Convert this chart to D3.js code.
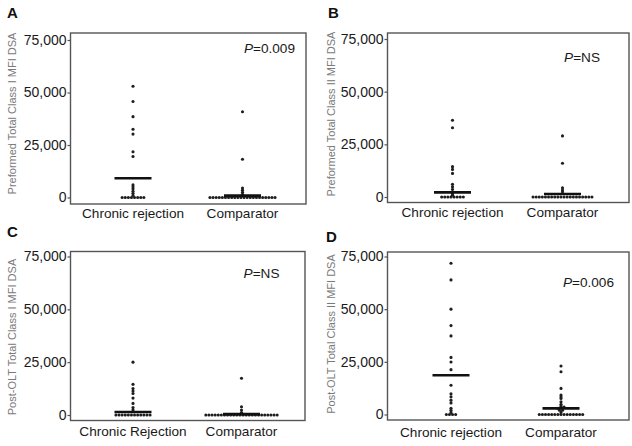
<!DOCTYPE html>
<html>
<head>
<meta charset="utf-8">
<script src="https://cdn.jsdelivr.net/npm/d3@7"></script>
<style>
  body { margin: 0; background: #fff; }
  svg { font-family: Arial, "Liberation Sans", sans-serif; }
</style>
</head>
<body>
<div id="container"></div>
<script>
// data
const panelLetters = ['A', 'B', 'C', 'D'];
const yTitles = [
    'Preformed Total Class I MFI DSA',
    'Preformed Total Class II MFI DSA',
    'Post-OLT Total Class I MFI DSA',
    'Post-OLT Total Class II MFI DSA'
];
const categoryLabels = [
    ['Chronic rejection', 'Comparator'],
    ['Chronic rejection', 'Comparator'],
    ['Chronic Rejection', 'Comparator'],
    ['Chronic rejection', 'Comparator']
];
const pValues = ['0.009', 'NS', 'NS', '0.006'];
const yTicks = [0, 25000, 50000, 75000];

const crA = [53000, 45700, 38500, 32500, 30200, 21800, 19500, 6000, 5000, 4000, 3000, 2000, 1000,
    0, 0, 0, 0, 0, 0, 0, 0];
const compA = [40800, 18200, 4500, 3500, 2500, 1500,
    0, 0, 0, 0, 0, 0, 0, 0, 0, 0, 0, 0, 0, 0, 0, 0, 0, 0, 0, 0, 0, 0];
const meanA = [9200, 900];

const crB = [36400, 32900, 14400, 13100, 11200, 6000, 4900, 3600, 1500, 800,
    0, 0, 0, 0, 0, 0, 0, 0];
const compB = [29000, 16000, 4400, 3300, 2500,
    0, 0, 0, 0, 0, 0, 0, 0, 0, 0, 0, 0, 0, 0, 0, 0, 0, 0, 0, 0];
const meanB = [2200, 1400];

const crC = [25000, 14500, 12500, 11300, 10200, 8000, 5500, 3500, 2500,
    0, 0, 0, 0, 0, 0, 0, 0, 0, 0, 0, 0];
const compC = [17400, 3900, 2400, 1200,
    0, 0, 0, 0, 0, 0, 0, 0, 0, 0, 0, 0, 0, 0, 0, 0, 0, 0, 0, 0, 0, 0, 0, 0];
const meanC = [1400, 400];

const crD = [71800, 63900, 50000, 42200, 37300, 27100, 24900, 21300, 13900, 9800, 8400, 6800, 5500,
    3000, 2000, 1000, 0, 0, 0, 0];
const compD = [23000, 20300, 12400, 9200, 8400, 7600, 6000, 4900, 4000, 3500, 3500, 3000, 2000, 2000, 1000,
    0, 0, 0, 0, 0, 0, 0, 0, 0, 0, 0, 0, 0, 0, 0];
const meanD = [18600, 2900];

const series = [[crA, compA], [crB, compB], [crC, compC], [crD, compD]];
const means = [meanA, meanB, meanC, meanD];

// layout of the four panels (frame, y range, category centres, text spots)
const layout = [
    {l: 70.5, r: 306, t: 33, b: 204, y0: 197.5, y1: 40, cx: [133, 242.5],
     letter: [7, 18], title: [12, 113.5], p: [295, 53, 'end'], catY: 218},
    {l: 387.5, r: 629, t: 33, b: 202.5, y0: 197, y1: 39, cx: [452.5, 562.5],
     letter: [328, 17.5], title: [331, 114], p: [582, 61.5, 'middle'], catY: 217},
    {l: 70.5, r: 305, t: 251.5, b: 420.5, y0: 415, y1: 256.5, cx: [133, 241.5],
     letter: [7, 237], title: [12, 337], p: [261.5, 278, 'middle'], catY: 435.5},
    {l: 387.5, r: 629, t: 252, b: 420, y0: 414.5, y1: 256.5, cx: [451, 561],
     letter: [326, 242], title: [331, 334], p: [614, 286.5, 'end'], catY: 437}
];

const W = 632, H = 446;
const dotR = 1.55, dotGap = 3.1, meanHalf = 18.5;

const svg = d3.select('#container').append('svg')
    .attr('width', W)
    .attr('height', H);

// put points of (almost) the same height side by side, like a dot plot
function arrange(values, y, cx) {
    const sorted = values.slice().sort((a, b) => a - b);
    const rows = [];
    sorted.forEach(v => {
        const py = y(v);
        const row = rows[rows.length - 1];
        if (row && Math.abs(row.y - py) < 1.2) row.pts.push(py);
        else rows.push({y: py, pts: [py]});
    });
    const out = [];
    rows.forEach(row => {
        const n = row.pts.length;
        row.pts.forEach((py, i) => out.push({x: cx + (i - (n - 1) / 2) * dotGap, y: py}));
    });
    return out;
}

layout.forEach((L, k) => {
    const g = svg.append('g');
    const y = d3.scaleLinear().domain([0, 75000]).range([L.y0, L.y1]);
    const x = d3.scalePoint().domain(categoryLabels[k]).range(L.cx);

    // frame
    g.append('rect')
        .attr('x', L.l).attr('y', L.t)
        .attr('width', L.r - L.l).attr('height', L.b - L.t)
        .attr('fill', 'none')
        .attr('stroke', '#555')
        .attr('stroke-width', 1.4);

    // y axis
    const axisG = g.append('g')
        .attr('transform', `translate(${L.l},0)`)
        .call(d3.axisLeft(y).tickValues(yTicks).tickSize(3).tickPadding(1).tickFormat(d3.format(',')));
    axisG.select('.domain').remove();
    axisG.selectAll('.tick line').attr('stroke', '#555').attr('stroke-width', 1.2);
    axisG.selectAll('.tick text')
        .attr('fill', '#1a1a1a')
        .style('font-size', '14px')
        .style('font-family', 'Arial, "Liberation Sans", sans-serif');

    // y title
    g.append('text')
        .attr('transform', `translate(${L.title[0]},${L.title[1]}) rotate(-90)`)
        .attr('text-anchor', 'middle')
        .attr('dy', '0.35em')
        .attr('fill', '#7a7a7a')
        .style('font-size', '11px')
        .text(yTitles[k]);

    // panel letter
    g.append('text')
        .attr('x', L.letter[0]).attr('y', L.letter[1])
        .attr('font-weight', 'bold')
        .style('font-size', '15px')
        .attr('fill', '#111')
        .text(panelLetters[k]);

    // category labels
    g.selectAll('.cat').data(categoryLabels[k]).enter()
        .append('text')
        .attr('class', 'cat')
        .attr('x', d => x(d))
        .attr('y', L.catY)
        .attr('text-anchor', 'middle')
        .attr('fill', '#1a1a1a')
        .style('font-size', '13.6px')
        .text(d => d);

    // P value
    const p = g.append('text')
        .attr('x', L.p[0]).attr('y', L.p[1])
        .attr('text-anchor', L.p[2])
        .attr('fill', '#1a1a1a')
        .style('font-size', '13.6px');
    p.append('tspan').attr('font-style', 'italic').text('P');
    p.append('tspan').text('=' + pValues[k]);

    // dots and mean lines
    categoryLabels[k].forEach((cat, j) => {
        const pts = arrange(series[k][j], y, x(cat));
        g.selectAll(`.dot${j}`).data(pts).enter()
            .append('circle')
            .attr('class', `dot${j}`)
            .attr('cx', d => d.x)
            .attr('cy', d => d.y)
            .attr('r', dotR)
            .attr('fill', '#1e1e1e');
        g.append('line')
            .attr('x1', x(cat) - meanHalf).attr('x2', x(cat) + meanHalf)
            .attr('y1', y(means[k][j])).attr('y2', y(means[k][j]))
            .attr('stroke', '#111')
            .attr('stroke-width', 2.6);
    });
});
</script>
</body>
</html>
